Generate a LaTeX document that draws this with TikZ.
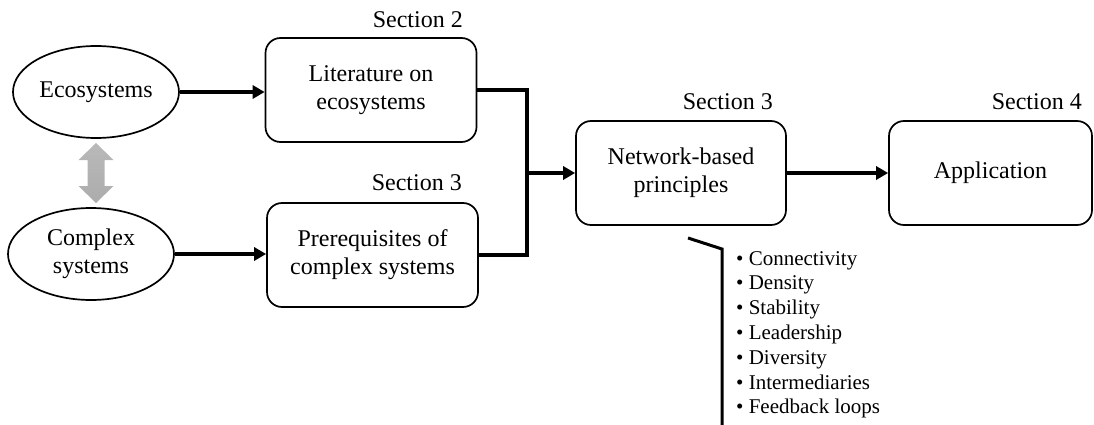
\documentclass[tikz,border=0pt]{standalone}
\usepackage{fontspec}
\setmainfont{Liberation Serif}
\usetikzlibrary{shapes.geometric,arrows.meta}
\tikzset{
  oval/.style={ellipse, draw, line width=1.7pt, minimum width=166pt, minimum height=92pt, inner sep=0pt, align=center, font=\fontsize{24}{28}\selectfont},
  rbox/.style={rectangle, rounded corners=15pt, draw, line width=1.7pt, minimum width=211pt, minimum height=104pt, inner sep=0pt, align=center, font=\fontsize{24}{28}\selectfont},
  conn/.style={line width=3.8pt, -{Triangle[length=12pt,width=13pt]}},
  wire/.style={line width=3.8pt},
  seclabel/.style={anchor=base east, inner sep=0pt, font=\fontsize{24}{28}\selectfont},
  item/.style={anchor=base west, inner sep=0pt, font=\fontsize{21}{25}\selectfont},
}
\begin{document}
\begin{tikzpicture}[x=1pt,y=-1pt]
\useasboundingbox (0,0) rectangle (1094,425);
\node[oval] (eco) at (96,92) {Ecosystems};
\node[oval] (cplx) at (91,254) {Complex\\systems};
\node[rbox] (lit) at (371,90) {Literature on\\ecosystems};
\node[rbox] (pre) at (372.5,255) {Prerequisites of\\complex systems};
\node[rbox, minimum width=210pt] (net) at (681,173) {Network-based\\principles};
\node[rbox, minimum width=203pt] (app) at (990.5,173) {Application};
\node[seclabel] (s2) at (463,28) {Section 2};
\node[seclabel] (s3a) at (462,190) {Section 3};
\node[seclabel] (s3b) at (773,110) {Section 3};
\node[seclabel] (s4) at (1082,110) {Section 4};
% double arrow
\shade[top color=gray!55, middle color=gray!40, bottom color=gray!65]
  (96,143) -- (113.5,160) -- (104.5,160) -- (104.5,186) -- (113.5,186) -- (96,203)
  -- (78.5,186) -- (87.5,186) -- (87.5,160) -- (78.5,160) -- cycle;
% connectors
\draw[conn] (eco.east) -- (eco.east -| lit.west);
\draw[conn] (cplx.east) -- (cplx.east -| pre.west);
\coordinate (j) at (527,173);
\draw[wire, line join=miter] (lit.east) -| (j) |- (pre.east);
\draw[conn] (j) -- (net.west);
\draw[conn] (net.east) -- (app.west);
% bracket
\coordinate (b1) at (688,238);
\coordinate (b2) at (722,249);
\coordinate (b3) at (722,425);
\draw[line width=3pt] (b1) -- (b2) -- (b3);
% list
\foreach \t [count=\i from 0] in {Connectivity,Density,Stability,Leadership,Diversity,Intermediaries,Feedback loops}{
  \node[item] (l\i) at (736,{265+24.8*\i}) {•\ \t};
}
\end{tikzpicture}
\end{document}
